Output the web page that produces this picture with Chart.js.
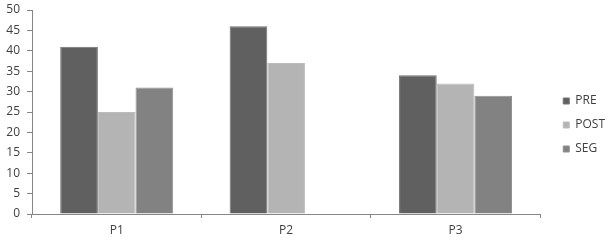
<!DOCTYPE html>
<html>
<head>
<meta charset="utf-8">
<script src="https://cdn.jsdelivr.net/npm/chart.js@4/dist/chart.umd.min.js"></script>
<style>
  html, body { margin: 0; padding: 0; background: #fff; }
  #wrap { width: 614px; height: 240px; position: relative; }
</style>
</head>
<body>
<div id="wrap"><canvas id="c" width="614" height="240"></canvas></div>
<script>
const categories = ['P1', 'P2', 'P3'];
const pre = [41, 46, 34];
const post = [25, 37, 32];
const seg = [31, null, 29];
const yTicks = [0, 5, 10, 15, 20, 25, 30, 35, 40, 45, 50];

const axisColor = '#868686';
const textColor = '#404040';
const font = { family: "'Open Sans', 'Noto Sans', sans-serif", size: 12 };

// Legend placement tweak: widen the legend box and shift it so the plot ends at x≈543
const legendShift = {
  id: 'legendShift',
  beforeLayout(chart) {
    const lg = chart.legend;
    if (lg && !lg._patched) {
      const orig = lg.fit.bind(lg);
      lg.fit = function () { orig(); this.width += 10; };
      lg._patched = true;
    }
  },
  afterLayout(chart) {
    const lg = chart.legend;
    if (lg) { lg.left += 11; lg.right += 11; }
  }
};

new Chart(document.getElementById('c'), {
  type: 'bar',
  data: {
    labels: categories,
    datasets: [
      { label: 'PRE', data: pre, backgroundColor: '#606060', borderColor: '#707070', borderWidth: 1 },
      { label: 'POST', data: post, backgroundColor: '#b4b4b4', borderColor: '#bcbcbc', borderWidth: 1 },
      { label: 'SEG', data: seg, backgroundColor: '#828282', borderColor: '#8e8e8e', borderWidth: 1 }
    ]
  },
  options: {
    responsive: false,
    animation: false,
    devicePixelRatio: 1,
    layout: { padding: { top: 10, right: 0, bottom: 0, left: 0 } },
    datasets: { bar: { categoryPercentage: 0.667, barPercentage: 1.0 } },
    plugins: {
      tooltip: { enabled: false },
      legend: {
        position: 'right',
        labels: {
          boxWidth: 6, boxHeight: 6, padding: 12,
          color: textColor, font: font
        }
      }
    },
    scales: {
      x: {
        grid: { display: true, drawOnChartArea: false, offset: true, tickLength: 4, color: axisColor, tickColor: axisColor },
        border: { color: axisColor, width: 1 },
        ticks: { color: textColor, font: font, padding: 5 },
        afterFit: s => { s.height = 26; }
      },
      y: {
        min: 0, max: 50,
        afterBuildTicks: s => { s.ticks = yTicks.map(v => ({ value: v })); },
        grid: { display: true, drawOnChartArea: false, tickLength: 5, color: axisColor, tickColor: axisColor },
        border: { color: axisColor, width: 1 },
        ticks: { color: textColor, font: font, padding: 7 },
        afterFit: s => { s.width = 32; s.paddingTop = 0; s.paddingBottom = 0; }
      }
    }
  },
  plugins: [legendShift]
});
</script>
</body>
</html>
